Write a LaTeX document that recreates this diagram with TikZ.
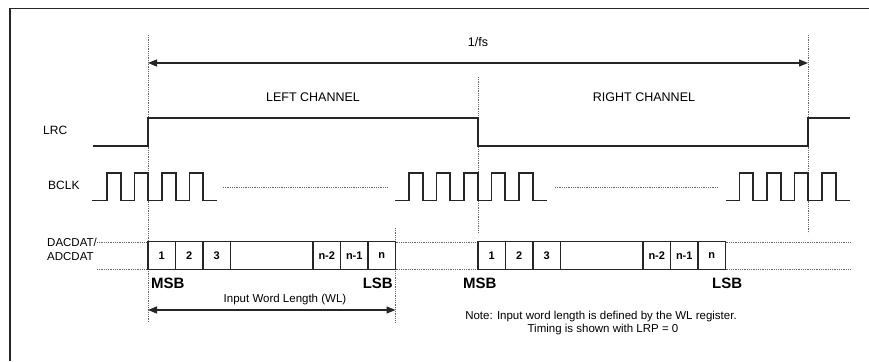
\documentclass[tikz,border=0pt]{standalone}
\usepackage{fontspec}
\setmainfont{Liberation Sans}
\usetikzlibrary{arrows.meta}
\begin{document}
\begin{tikzpicture}[x=1pt,y=-1pt,
  frameline/.style={line width=1.8pt, black!85},
  sig/.style={line width=1.6pt, black!85, line join=miter},
  guide/.style={densely dotted, line width=0.8pt, black!60},
  lbl/.style={font=\fontsize{12}{14}\selectfont, inner sep=0pt},
  chlbl/.style={font=\fontsize{12.5}{14}\selectfont, inner sep=0pt},
  bitlbl/.style={font=\bfseries\fontsize{15}{17}\selectfont, inner sep=0pt},
  notelbl/.style={font=\fontsize{11.5}{13}\selectfont, inner sep=0pt},
  cell/.style={draw, line width=1.4pt, black!85, text=black, minimum height=27.5pt, minimum width=27.5pt, inner sep=0pt, font=\bfseries\fontsize{11}{13}\selectfont},
  dimarrow/.style={line width=1.3pt, black!85, {Triangle[length=9pt,width=7pt]}-{Triangle[length=9pt,width=7pt]}}
]
\useasboundingbox (0,0) rectangle (869,361);
% frame (top and left visible)
\draw[frameline] (10,361) -- (10,8.5) -- (869,8.5);

% guide coordinates
\coordinate (g1top) at (148,35);
\coordinate (g1bot) at (148,323);
\coordinate (g2top) at (478,77);
\coordinate (g2bot) at (478,233);
\coordinate (g3top) at (808,35);
\coordinate (g3bot) at (808,233);
\coordinate (g4top) at (395.5,228);
\coordinate (g4bot) at (395.5,323);
\draw[guide] (g1top) -- (g1bot);
\draw[guide] (g2top) -- (g2bot);
\draw[guide] (g3top) -- (g3bot);
\draw[guide] (g4top) -- (g4bot);

% 1/fs
\coordinate (fsL) at (148,63);
\coordinate (fsR) at (808,63);
\draw[dimarrow] (fsL) -- (fsR);
\node[chlbl] (fs) at (478,42) {1/fs};

% channel labels
\node[chlbl] (left) at (313,97) {LEFT CHANNEL};
\node[chlbl] (right) at (644,97) {RIGHT CHANNEL};

% LRC
\node[lbl, anchor=west] (lrc) at (43,130) {LRC};
\draw[sig] (93,146) -- (148,146) -- (148,118) -- (478,118) -- (478,146) -- (808,146) -- (808,118) -- (850,118);

% BCLK
\node[lbl, anchor=west] (bclk) at (48,185) {BCLK};
\def\lo{200.5}
\def\hi{173}
\draw[sig] (92,\lo)
  foreach \r in {107,134.5,162,189.5} { -- (\r,\lo) -- (\r,\hi) -- (\r+13.75,\hi) -- (\r+13.75,\lo) }
  -- (216.5,\lo);
\draw[sig] (395,\lo)
  foreach \r in {409,436.5,464,491.5,519} { -- (\r,\lo) -- (\r,\hi) -- (\r+13.75,\hi) -- (\r+13.75,\lo) }
  -- (547,\lo);
\draw[sig] (726,\lo)
  foreach \r in {739.5,767,794.5,822} { -- (\r,\lo) -- (\r,\hi) -- (\r+13.75,\hi) -- (\r+13.75,\lo) }
  -- (850,\lo);
\draw[guide] (223,187) -- (388,187);
\draw[guide] (555,187) -- (718,187);

% DACDAT
\node[font=\fontsize{11.5}{14}\selectfont, inner sep=0pt, anchor=west, align=left] (dac) at (47,249.5) {DACDAT/\\ADCDAT};
\draw[guide] (97,242) -- (148,242);
\draw[guide] (97,269) -- (148,269);
\draw[guide] (395.5,242) -- (478,242);
\draw[guide] (395.5,269) -- (478,269);
\draw[guide] (725.5,242) -- (850,242);
\draw[guide] (725.5,269) -- (850,269);

% left word
\node[cell] (a1) at (161.75,255.5) {1};
\node[cell] (a2) at (189.25,255.5) {2};
\node[cell] (a3) at (216.75,255.5) {3};
\node[cell, minimum width=82.5pt] (a4) at (271.75,255.5) {};
\node[cell] (a5) at (326.75,255.5) {n-2};
\node[cell] (a6) at (354.25,255.5) {n-1};
\node[cell] (a7) at (381.75,255.5) {n};
% right word
\node[cell] (b1) at (491.75,255.5) {1};
\node[cell] (b2) at (519.25,255.5) {2};
\node[cell] (b3) at (546.75,255.5) {3};
\node[cell, minimum width=82.5pt] (b4) at (601.75,255.5) {};
\node[cell] (b5) at (656.75,255.5) {n-2};
\node[cell] (b6) at (684.25,255.5) {n-1};
\node[cell] (b7) at (711.75,255.5) {n};

% MSB / LSB
\node[bitlbl, anchor=west] (msbL) at (151,283) {MSB};
\node[bitlbl, anchor=east] (lsbL) at (393,283) {LSB};
\node[bitlbl, anchor=west] (msbR) at (463,283) {MSB};
\node[bitlbl, anchor=west] (lsbR) at (712,283) {LSB};

% word length
\node[notelbl] (wl) at (285,300) {Input Word Length (WL)};
\coordinate (wlL) at (148,310);
\coordinate (wlR) at (395.5,310);
\draw[dimarrow] (wlL) -- (wlR);

% note
\node[notelbl] (note1) at (601,317) {Note: Input word length is defined by the WL register.};
\node[notelbl] (note2) at (603,330) {Timing is shown with LRP = 0};
\end{tikzpicture}
\end{document}
